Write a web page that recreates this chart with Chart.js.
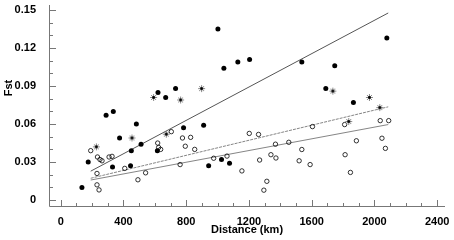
<!DOCTYPE html>
<html>
<head>
<meta charset="utf-8">
<script src="https://cdn.jsdelivr.net/npm/chart.js@4.4.1/dist/chart.umd.min.js"></script>
<style>
  html, body { margin: 0; padding: 0; background: #fff; }
  #wrap { width: 454px; height: 240px; }
</style>
</head>
<body>
<div id="wrap"><canvas id="chart" width="454" height="240"></canvas></div>
<script>
// filled circles
const filledDist = [135, 175, 289, 330, 335, 375, 445, 450, 482, 512, 616, 620, 669, 732, 783, 911, 943, 1002, 1025, 1040, 1076, 1129, 1204, 1537, 1690, 1747, 1866, 2079];
const filledFst = [0.010, 0.030, 0.067, 0.026, 0.070, 0.049, 0.027, 0.039, 0.060, 0.044, 0.039, 0.085, 0.081, 0.088, 0.057, 0.059, 0.027, 0.135, 0.032, 0.104, 0.029, 0.109, 0.111, 0.109, 0.088, 0.106, 0.077, 0.128];

// asterisks
const starDist = [227, 454, 592, 673, 764, 898, 1735, 1836, 1968, 2034];
const starFst = [0.042, 0.049, 0.081, 0.052, 0.079, 0.088, 0.086, 0.062, 0.081, 0.073];

// open circles
const openDist = [191, 231, 231, 234, 244, 250, 263, 308, 327, 408, 492, 541, 618, 624, 637, 705, 761, 776, 794, 828, 854, 975, 1060, 1155, 1202, 1261, 1268, 1295, 1314, 1340, 1369, 1372, 1454, 1520, 1537, 1590, 1605, 1810, 1813, 1847, 1885, 2037, 2048, 2070, 2091];
const openFst = [0.039, 0.021, 0.012, 0.034, 0.008, 0.032, 0.031, 0.034, 0.0345, 0.025, 0.016, 0.0215, 0.045, 0.0415, 0.040, 0.054, 0.028, 0.049, 0.0425, 0.0495, 0.040, 0.033, 0.0347, 0.023, 0.0526, 0.0518, 0.0316, 0.0078, 0.0148, 0.0358, 0.0441, 0.0332, 0.0456, 0.031, 0.0399, 0.028, 0.058, 0.0596, 0.0358, 0.0218, 0.0468, 0.0627, 0.0488, 0.0408, 0.0627];

// regression line ends
const lineDist = [191, 2088];
const filledLine = [0.0228, 0.1477];
const starLine = [0.0172, 0.0736];
const openLine = [0.0158, 0.0596];

const xTicks = [0, 400, 800, 1200, 1600, 2000, 2400];
const yTicks = [0, 0.03, 0.06, 0.09, 0.12, 0.15];

const axisGray = "#777";

function pts(xs, ys) {
  return xs.map((x, i) => ({ x: x, y: ys[i] }));
}

// asterisk marker: grey star with a black centre
const star = document.createElement("canvas");
star.width = 9;
star.height = 9;
(function () {
  const c = star.getContext("2d");
  c.strokeStyle = "#888";
  c.lineWidth = 1;
  c.beginPath();
  c.moveTo(4.5, 1); c.lineTo(4.5, 8);
  c.moveTo(1, 4.5); c.lineTo(8, 4.5);
  c.moveTo(2, 2); c.lineTo(7, 7);
  c.moveTo(7, 2); c.lineTo(2, 7);
  c.stroke();
  c.fillStyle = "#000";
  c.beginPath();
  c.arc(4.5, 4.5, 1.4, 0, Math.PI * 2);
  c.fill();
})();

const innerTicks = {
  id: "innerTicks",
  afterDraw(chart) {
    const { ctx, chartArea } = chart;
    const x = chart.scales.x;
    const y = chart.scales.y;
    ctx.save();
    ctx.strokeStyle = axisGray;
    ctx.lineWidth = 1;
    ctx.beginPath();
    // axis lines
    ctx.moveTo(chartArea.left + 0.5, chartArea.top);
    ctx.lineTo(chartArea.left + 0.5, chartArea.bottom + 0.5);
    ctx.lineTo(chartArea.right, chartArea.bottom + 0.5);
    for (let v = 0; v <= 2400; v += 100) {
      const px = Math.round(x.getPixelForValue(v)) + 0.5;
      const len = v % 400 === 0 ? 6 : 3;
      ctx.moveTo(px, chartArea.bottom);
      ctx.lineTo(px, chartArea.bottom - len);
    }
    for (let i = 0; i <= 15; i++) {
      const py = Math.round(y.getPixelForValue(i / 100)) + 0.5;
      const len = i % 3 === 0 ? 7 : 4;
      ctx.moveTo(chartArea.left, py);
      ctx.lineTo(chartArea.left + len, py);
    }
    ctx.stroke();
    // y title
    ctx.fillStyle = "#000";
    ctx.font = "bold 11px 'Liberation Sans', Arial, sans-serif";
    ctx.translate(12, 88);
    ctx.rotate(-Math.PI / 2);
    ctx.textAlign = "center";
    ctx.textBaseline = "alphabetic";
    ctx.fillText("Fst", 0, 0);
    ctx.restore();
  }
};

Chart.defaults.font.family = "'Liberation Sans', Arial, sans-serif";
Chart.defaults.font.size = 11;
Chart.defaults.font.weight = "bold";
Chart.defaults.color = "#000";

const ctx = document.getElementById("chart").getContext("2d");
new Chart(ctx, {
  type: "scatter",
  data: {
    datasets: [
      {
        label: "filled",
        data: pts(filledDist, filledFst),
        pointStyle: "circle",
        pointRadius: 2.5,
        backgroundColor: "#000",
        borderColor: "#000",
        borderWidth: 0,
        order: 1,
      },
      {
        label: "asterisk",
        data: pts(starDist, starFst),
        pointStyle: star,
        order: 1,
      },
      {
        label: "open",
        data: pts(openDist, openFst),
        pointStyle: "circle",
        pointRadius: 2.2,
        backgroundColor: "rgba(255,255,255,0)",
        borderColor: "#000",
        borderWidth: 0.8,
        order: 1,
      },
      {
        label: "filled fit",
        data: pts(lineDist, filledLine),
        showLine: true,
        pointRadius: 0,
        borderColor: "#555",
        borderWidth: 1,
        order: 5,
      },
      {
        label: "asterisk fit",
        data: pts(lineDist, starLine),
        showLine: true,
        pointRadius: 0,
        borderColor: "#777",
        borderWidth: 0.9,
        borderDash: [3, 1],
        order: 5,
      },
      {
        label: "open fit",
        data: pts(lineDist, openLine),
        showLine: true,
        pointRadius: 0,
        borderColor: "#777",
        borderWidth: 0.9,
        order: 5,
      },
    ],
  },
  options: {
    responsive: false,
    animation: false,
    layout: { padding: { left: 0, right: 9, top: 2, bottom: 0 } },
    plugins: {
      legend: { display: false },
      tooltip: { enabled: false },
    },
    scales: {
      x: {
        type: "linear",
        min: -75,
        max: 2450,
        grid: { display: false },
        border: { display: false },
        afterBuildTicks: (s) => { s.ticks = xTicks.map((v) => ({ value: v })); },
        afterFit: (s) => { s.height = 34; s.paddingLeft = 0; s.paddingRight = 0; },
        ticks: { padding: 1, callback: (v) => String(v) },
        title: {
          display: true,
          text: "Distance (km)",
          font: { size: 11, weight: "bold" },
          padding: { top: 0, bottom: 3 },
        },
      },
      y: {
        type: "linear",
        min: -0.0047,
        max: 0.154,
        grid: { display: false },
        border: { display: false },
        afterBuildTicks: (s) => { s.ticks = yTicks.map((v) => ({ value: v })); },
        afterFit: (s) => { s.width = 49; s.paddingTop = 0; s.paddingBottom = 0; },
        ticks: { padding: 5, callback: (v) => (v === 0 ? "0" : v.toFixed(2)) },
      },
    },
  },
  plugins: [innerTicks],
});
</script>
</body>
</html>
